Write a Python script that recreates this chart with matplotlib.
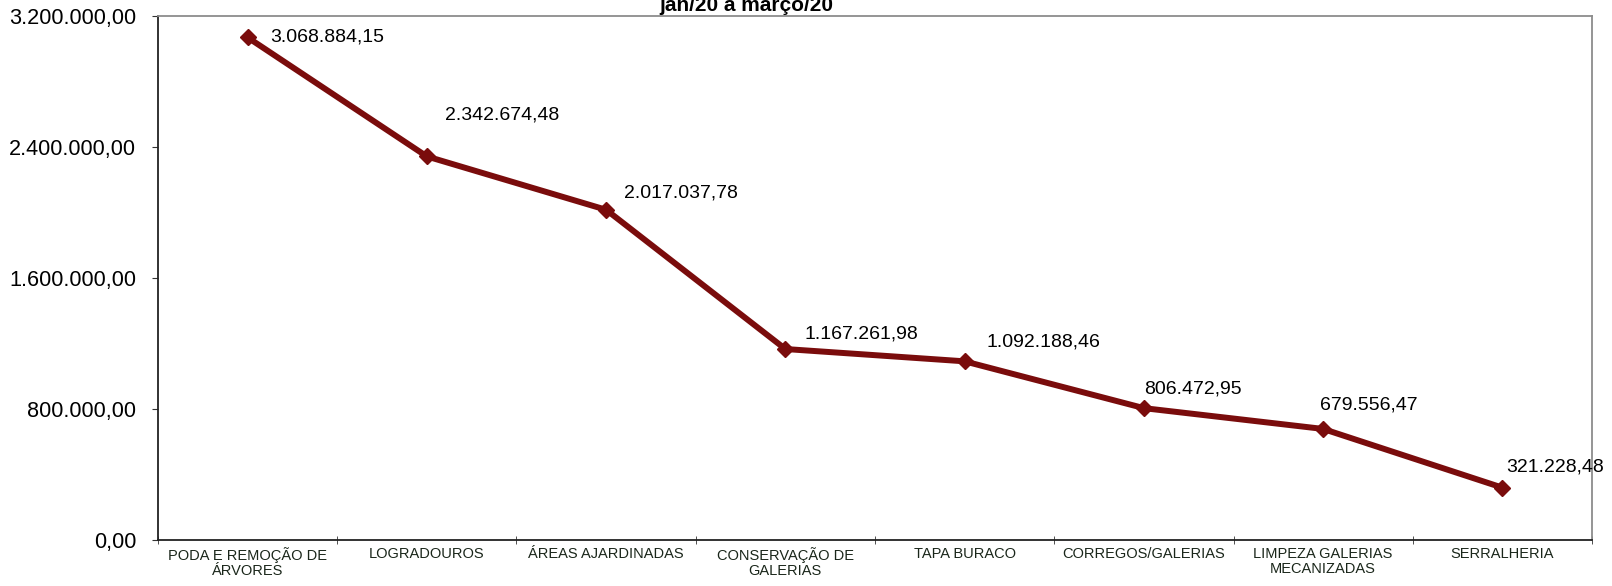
import matplotlib.pyplot as plt
from matplotlib.ticker import FuncFormatter

plt.rcParams['font.family'] = ['Liberation Sans', 'DejaVu Sans']

# servicos e valores (R$)
categorias = [
    'PODA E REMOÇÃO DE\nÁRVORES', 'LOGRADOUROS', 'ÁREAS AJARDINADAS',
    'CONSERVAÇÃO DE\nGALERIAS', 'TAPA BURACO', 'CORREGOS/GALERIAS',
    'LIMPEZA GALERIAS\nMECANIZADAS', 'SERRALHERIA',
]
valores = [3068884.15, 2342674.48, 2017037.78, 1167261.98,
           1092188.46, 806472.95, 679556.47, 321228.48]
rotulos = ['3.068.884,15', '2.342.674,48', '2.017.037,78', '1.167.261,98',
           '1.092.188,46', '806.472,95', '679.556,47', '321.228,48']
yticks = [0, 800000, 1600000, 2400000, 3200000]

# deslocamento dos rotulos (pontos)
offsets = [(16, 0), (13, 30), (13, 12), (14, 11), (16, 14), (0, 14), (-2, 17), (3, 15)]


def fmt_br(v, pos=None):
    s = f"{v:,.2f}"
    return s.replace(',', 'X').replace('.', ',').replace('X', '.')


fig = plt.figure(figsize=(16.12, 5.86), dpi=100)
ax = fig.add_axes([0.098, 0.078, 0.8896, 0.8948])

x = list(range(len(valores)))
ax.plot(x, valores, color='#7a0c0c', linewidth=4.3, marker='D', markersize=8.5,
        markerfacecolor='#7a0c0c', markeredgecolor='#7a0c0c')

for xi, v, r, (dx, dy) in zip(x, valores, rotulos, offsets):
    ax.annotate(r, (xi, v), xytext=(dx, dy), textcoords='offset points',
                ha='left', va='center', fontsize=14, color='black')

ax.set_xlim(-0.5, len(valores) - 0.5)
ax.set_ylim(0, 3200000)
ax.set_yticks(yticks)
ax.yaxis.set_major_formatter(FuncFormatter(fmt_br))
ax.tick_params(axis='y', labelsize=15.6, length=4.3, direction='out', color='#333333', pad=11.5)

ax.set_xticks(x)
ax.set_xticklabels(categorias, fontsize=10.5, color='#1a261a', linespacing=1.07)
ax.set_xticks([i - 0.5 for i in range(len(valores) + 1)], minor=True)
ax.tick_params(axis='x', which='major', length=0, pad=5)
ax.tick_params(axis='x', which='minor', length=6, direction='inout', color='#333333')

for s in ['left', 'bottom']:
    ax.spines[s].set_color('#222222')
    ax.spines[s].set_linewidth(1.3)
for s in ['top', 'right']:
    ax.spines[s].set_color('#8c8c8c')
    ax.spines[s].set_linewidth(1.3)

fig.text(0.463, 0.990, 'jan/20 a março/20', ha='center', va='center',
         fontsize=15, fontweight='bold')

fig.savefig('out.png', dpi=100)
